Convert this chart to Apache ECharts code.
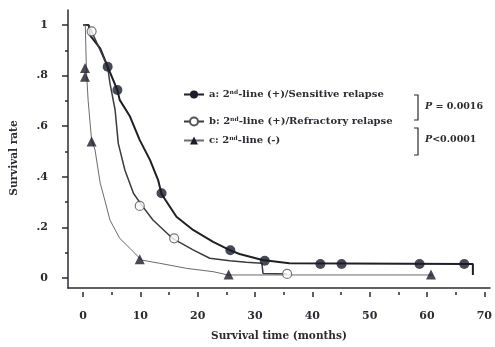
<!DOCTYPE html>
<html>
<head>
<meta charset="utf-8">
<script src="https://cdn.jsdelivr.net/npm/echarts@6/dist/echarts.min.js"></script>
<style>
  html, body { margin: 0; padding: 0; background: #fff; }
  #chart { width: 495px; height: 347px; }
</style>
</head>
<body>
<div id="chart"></div>
<script>
// survival curves (time in months, survival rate)
const aTime = [0, 1.0, 1.2, 3.0, 4.3, 6.0, 6.4, 8.2, 9.9, 11.7, 13.1, 13.7, 16.3, 19.2, 22.7, 25.6, 27.3, 31.3, 36, 66.5, 68, 68]
const aSurv = [1, 1, 0.96, 0.908, 0.835, 0.743, 0.704, 0.638, 0.545, 0.466, 0.387, 0.332, 0.242, 0.19, 0.143, 0.11, 0.095, 0.071, 0.058, 0.055, 0.055, 0.012]

const bTime = [0, 1.0, 1.5, 3.0, 4.3, 4.7, 5.6, 6.15, 7.3, 8.8, 10.2, 12.2, 15.6, 19.2, 22.1, 25.6, 28.5, 31.2, 31.4, 35.6]
const bSurv = [1, 1, 0.975, 0.90, 0.834, 0.77, 0.664, 0.532, 0.427, 0.335, 0.289, 0.229, 0.157, 0.111, 0.078, 0.068, 0.062, 0.058, 0.018, 0.016]

const cTime = [0, 0.4, 0.6, 0.9, 1.5, 2.1, 3.0, 3.8, 4.7, 6.4, 8.2, 10.2, 13.4, 18.1, 22.7, 25.3, 61]
const cSurv = [1, 1, 0.82, 0.70, 0.545, 0.506, 0.375, 0.308, 0.229, 0.157, 0.117, 0.071, 0.058, 0.038, 0.025, 0.012, 0.012]

// censor marks
const aMarkTime = [4.3, 6.0, 13.7, 25.7, 31.7, 41.4, 45.1, 58.7, 66.5]
const aMarkSurv = [0.835, 0.743, 0.335, 0.11, 0.068, 0.055, 0.055, 0.055, 0.055]
const bMarkTime = [1.5, 9.9, 15.9, 35.6]
const bMarkSurv = [0.975, 0.285, 0.157, 0.016]
const cMarkTime = [0.35, 0.35, 1.5, 9.9, 25.4, 60.7]
const cMarkSurv = [0.83, 0.795, 0.54, 0.074, 0.014, 0.014]

// axis ranges / ticks
const X_MIN = 0, X_MAX = 70, X_STEP = 10
const Y_MIN = 0, Y_MAX = 1, Y_STEP = 0.2

const seriesNames = ['a', 'b', 'c']
const legendLabels = [
  '{n|a: 2}{s|nd}{n|-line (+)/Sensitive relapse}',
  '{n|b: 2}{s|nd}{n|-line (+)/Refractory relapse}',
  '{n|c: 2}{s|nd}{n|-line (-)}',
]

const INK = '#2b2b33'
const FONT = '"DejaVu Serif", "Liberation Serif", serif'

const zip = (t, s) => t.map((v, i) => [v, s[i]])

function fmtY(v) {
  if (v === 0) return '0'
  if (v === 1) return '1'
  return String(+v.toFixed(1)).replace(/^0/, '')
}

const axisText = { color: INK, fontFamily: FONT, fontWeight: 'bold', fontSize: 11 }
const axisLn = { color: INK, width: 1.5 }

const chart = echarts.init(document.getElementById('chart'), null, { renderer: 'canvas' })

const legends = seriesNames.map((name, i) => ({
  data: [name],
  left: 183,
  top: [89, 116, 135][i],
  padding: 0,
  itemWidth: 20,
  itemHeight: 10,
  itemGap: 0,
  selectedMode: false,
  formatter: () => legendLabels[i],
  textStyle: {
    color: INK,
    rich: {
      n: { fontFamily: FONT, fontWeight: 'bold', fontSize: 10, color: INK },
      s: { fontFamily: FONT, fontWeight: 'bold', fontSize: 6, color: INK, verticalAlign: 'top', padding: [0, 0, 5, 0] },
    },
  },
}))

const lineStyles = [
  { color: '#1f1f27', width: 2 },
  { color: '#3a3a40', width: 1.5 },
  { color: '#6a6a70', width: 1 },
]
const markerStyles = [
  { symbol: 'circle', symbolSize: 10, itemStyle: { color: '#1c1c2a', borderColor: '#1c1c2a', borderWidth: 0 } },
  { symbol: 'circle', symbolSize: 9, itemStyle: { color: '#fff', borderColor: '#555', borderWidth: 1.2 } },
  { symbol: 'triangle', symbolSize: 10, itemStyle: { color: '#1c1c2a', borderColor: '#1c1c2a', borderWidth: 0 } },
]

const curves = [zip(aTime, aSurv), zip(bTime, bSurv), zip(cTime, cSurv)]
const marks = [zip(aMarkTime, aMarkSurv), zip(bMarkTime, bMarkSurv), zip(cMarkTime, cMarkSurv)]

const series = []
seriesNames.forEach((name, i) => {
  series.push({
    name,
    type: 'line',
    xAxisIndex: 1,
    yAxisIndex: 1,
    data: curves[i],
    showSymbol: false,
    symbol: markerStyles[i].symbol,
    symbolSize: markerStyles[i].symbolSize,
    itemStyle: markerStyles[i].itemStyle,
    lineStyle: lineStyles[i],
    clip: false,
    silent: true,
    z: 2,
  })
  series.push({
    name,
    type: 'scatter',
    xAxisIndex: 1,
    yAxisIndex: 1,
    data: marks[i],
    symbol: markerStyles[i].symbol,
    symbolSize: markerStyles[i].symbolSize,
    itemStyle: markerStyles[i].itemStyle,
    clip: false,
    silent: true,
    z: 3,
  })
})

chart.setOption({
  animation: false,
  // grid 0 carries the long axis lines, grid 1 the data scale (0..70, 0..1)
  grid: [
    { left: 68, right: 5, top: 10, bottom: 55 },
    { left: 83, right: 10, top: 25, bottom: 69 },
  ],
  legend: legends,
  xAxis: [
    {
      gridIndex: 0, type: 'value', min: 0, max: 1,
      name: 'Survival time (months)', nameLocation: 'middle', nameGap: 43,
      nameTextStyle: { ...axisText, fontSize: 10.5 },
      axisLine: { show: true, onZero: false, lineStyle: axisLn },
      axisTick: { show: false },
      axisLabel: { show: false },
      splitLine: { show: false },
    },
    {
      gridIndex: 1, type: 'value', min: X_MIN, max: X_MAX, interval: X_STEP, offset: 14,
      axisLine: { show: false, onZero: false },
      axisTick: { show: true, length: 5, lineStyle: axisLn },
      minorTick: { show: true, splitNumber: 2, length: 3, lineStyle: axisLn },
      axisLabel: { ...axisText, margin: 19 },
      splitLine: { show: false },
    },
  ],
  yAxis: [
    {
      gridIndex: 0, type: 'value', min: 0, max: 1,
      name: 'Survival rate', nameLocation: 'middle', nameGap: 48, nameRotate: 90,
      nameTextStyle: { ...axisText, fontSize: 10.5, padding: [0, 0, 0, -18] },
      axisLine: { show: true, onZero: false, lineStyle: axisLn },
      axisTick: { show: false },
      axisLabel: { show: false },
      splitLine: { show: false },
    },
    {
      gridIndex: 1, type: 'value', min: Y_MIN, max: Y_MAX, interval: Y_STEP, offset: 15,
      axisLine: { show: false, onZero: false },
      axisTick: { show: true, length: 6, lineStyle: axisLn },
      minorTick: { show: true, splitNumber: 2, length: 3, lineStyle: axisLn },
      axisLabel: { ...axisText, margin: 20, formatter: fmtY },
      splitLine: { show: false },
    },
  ],
  series,
  graphic: [
    // brackets with p-values
    { type: 'polyline', shape: { points: [[414, 95], [418, 95], [418, 120], [414, 120]] }, style: { stroke: INK, lineWidth: 1.2, fill: null } },
    { type: 'polyline', shape: { points: [[414, 128], [418, 128], [418, 155], [414, 155]] }, style: { stroke: INK, lineWidth: 1.2, fill: null } },
    {
      type: 'text', left: 425, top: 102,
      style: { text: '{p|P} = 0.0016', fill: INK, font: 'bold 9.5px ' + FONT, rich: { p: { fontStyle: 'italic', fontWeight: 'bold', fontSize: 9.5, fontFamily: FONT, fill: INK } } },
    },
    {
      type: 'text', left: 425, top: 135,
      style: { text: '{p|P}<0.0001', fill: INK, font: 'bold 9.5px ' + FONT, rich: { p: { fontStyle: 'italic', fontWeight: 'bold', fontSize: 9.5, fontFamily: FONT, fill: INK } } },
    },
  ],
})
</script>
</body>
</html>
